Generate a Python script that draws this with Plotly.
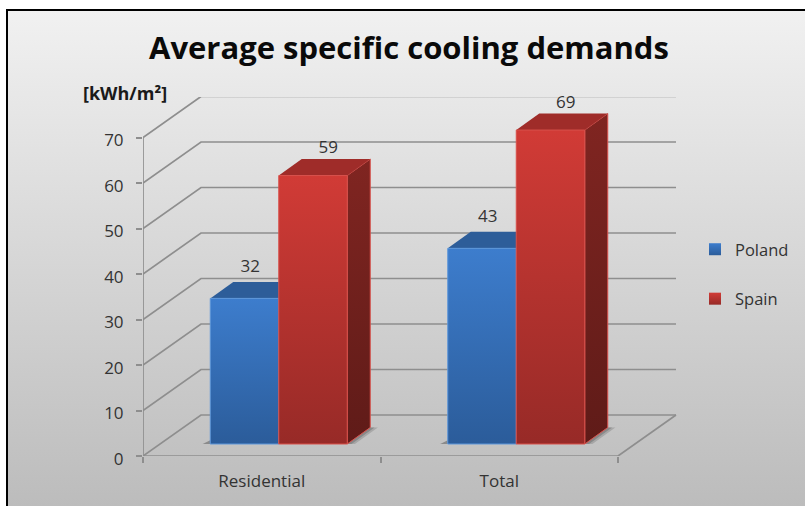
import plotly.graph_objects as go

# Chart content
TITLE = "Average specific cooling demands"
UNIT_LABEL = "[kWh/m²]"
categories = ["Residential", "Total"]
poland = [32, 43]
spain = [59, 69]
y_ticks = [0, 10, 20, 30, 40, 50, 60, 70]

# Canvas and plot geometry, in pixels
W, H = 805, 506
FRAME_L, FRAME_T = 7, 10
PLOT_L, PLOT_R = 143, 677
PLOT_B, PLOT_T = 456, 97
PX_PER_CAT = 237.5
PX_PER_UNIT = 4.55

# Oblique projection of the 3-D box, in axis units
WALL_DX = 58 / PX_PER_CAT
WALL_DY = 41 / PX_PER_UNIT
BAR_W = 68.5 / PX_PER_CAT
BAR_DX = 23 / PX_PER_CAT
BAR_DY = 16.5 / PX_PER_UNIT
FLOOR_DX = 17 / PX_PER_CAT
FLOOR_DY = 12 / PX_PER_UNIT

GRID = "#8e8e8e"
TEXT = "#333333"
FONT = "Open Sans"

STYLES = {
    "Poland": dict(front=("#3d7dcd", "#2b5c9a"), top="#2d5d99", side=("#24507f", "#1d4066"), edge="#5c96da"),
    "Spain": dict(front=("#d13b36", "#972a27"), top="#9f2c29", side=("#802521", "#5f1b18"), edge="#d8504b"),
}

fig = go.Figure()


def poly(xs, ys, grad=None, color=None, line=None):
    """Add a closed filled polygon on the chart axes."""
    kw = dict(
        x=list(xs) + [xs[0]], y=list(ys) + [ys[0]], mode="lines", fill="toself",
        xaxis="x2", yaxis="y2", showlegend=False, hoverinfo="skip",
        line=dict(color=line or "rgba(0,0,0,0)", width=1),
    )
    if grad:
        kw["fillgradient"] = dict(type="vertical", colorscale=[[0, grad[1]], [1, grad[0]]])
    else:
        kw["fillcolor"] = color
    fig.add_trace(go.Scatter(**kw))


# Slide background: a vertical gradient inside the frame
fig.add_trace(go.Scatter(
    x=[FRAME_L / W, 1, 1, FRAME_L / W, FRAME_L / W],
    y=[0, 0, 1 - FRAME_T / H, 1 - FRAME_T / H, 0], mode="lines", fill="toself",
    fillgradient=dict(type="vertical", colorscale=[[0, "#bcbcbc"], [1, "#f1f1f1"]]),
    line=dict(width=0), showlegend=False, hoverinfo="skip",
))

# Gridlines: along the side wall, then across the back wall
gx, gy = [], []
for v in y_ticks:
    gx += [0, WALL_DX, 2 + WALL_DX, None]
    gy += [v, v + WALL_DY, v + WALL_DY, None]
# Floor edges and the vertical axis
gx += [0, 2, 2 + WALL_DX, None, 0, 0, None]
gy += [0, 0, WALL_DY, None, 0, y_ticks[-1], None]
fig.add_trace(go.Scatter(
    x=gx, y=gy, mode="lines", line=dict(color=GRID, width=1.7), cliponaxis=False,
    xaxis="x2", yaxis="y2", showlegend=False, hoverinfo="skip",
))


def box(name, x0, value):
    """Draw one 3-D column whose front face starts at x0 on the floor."""
    s = STYLES[name]
    x1 = x0 + BAR_W
    base = FLOOR_DY
    top = FLOOR_DY + value
    poly([x1, x1 + BAR_DX, x1 + BAR_DX, x1], [base, base + BAR_DY, top + BAR_DY, top],
         grad=s["side"], line=s["edge"])
    poly([x0, x0 + BAR_DX, x1 + BAR_DX, x1], [top, top + BAR_DY, top + BAR_DY, top],
         color=s["top"])
    poly([x0, x1, x1, x0], [base, base, top, top], grad=s["front"], line=s["edge"])


def shadow(left, right):
    """Contact shadows on the floor either side of a column pair."""
    base = FLOOR_DY
    for spread, alpha in ((0.032, 0.22), (0.018, 0.32)):
        poly([right, right + BAR_DX, right + BAR_DX + spread, right + spread],
             [base, base + BAR_DY, base + BAR_DY, base], color=f"rgba(70,70,70,{alpha})")
    poly([left - 0.032, left, left], [base, base, base + 0.8], color="rgba(70,70,70,0.45)")


# Poland first so the Spain column sits in front of its right side
for i, (p, s) in enumerate(zip(poland, spain)):
    left = i + 0.5 - BAR_W + FLOOR_DX
    shadow(left, left + 2 * BAR_W)
    box("Poland", left, p)
    box("Spain", left + BAR_W, s)

# Value labels above each column
for values, dx_px, dy_px, offset in (
    (poland, 40, 14, 0.0),
    (spain, 49.5, 10, BAR_W),
):
    fig.add_trace(go.Scatter(
        x=[i + 0.5 - BAR_W + FLOOR_DX + offset + dx_px / PX_PER_CAT for i in range(len(values))],
        y=[v + FLOOR_DY + BAR_DY + dy_px / PX_PER_UNIT for v in values],
        text=[str(v) for v in values], mode="text", textposition="middle center",
        textfont=dict(family=FONT, size=17, color=TEXT), cliponaxis=False,
        xaxis="x2", yaxis="y2", showlegend=False, hoverinfo="skip",
    ))

# Legend entries
for name in ("Poland", "Spain"):
    fig.add_trace(go.Scatter(
        x=[None], y=[None], mode="markers", name=name, legendgroup=name,
        marker=dict(symbol="square", size=12, color=STYLES[name]["front"][0],
                    gradient=dict(type="vertical", color=STYLES[name]["front"][1]),
                    line=dict(width=0)),
        xaxis="x2", yaxis="y2",
    ))

fig.update_layout(
    width=W, height=H, margin=dict(l=0, r=0, t=0, b=0, autoexpand=False),
    paper_bgcolor="white", plot_bgcolor="rgba(0,0,0,0)", font=dict(family=FONT, color=TEXT),
    xaxis=dict(domain=[0, 1], range=[0, 1], visible=False, fixedrange=True),
    yaxis=dict(domain=[0, 1], range=[0, 1], visible=False, fixedrange=True),
    xaxis2=dict(
        domain=[PLOT_L / W, PLOT_R / W], range=[0, (PLOT_R - PLOT_L) / PX_PER_CAT],
        anchor="y2", showgrid=False, zeroline=False, showline=False,
        tickvals=[0.5, 1.5], ticktext=categories,
        ticks="outside", ticklen=10, tickcolor="rgba(0,0,0,0)",
        tickfont=dict(family=FONT, size=17, color=TEXT),
        minor=dict(tickvals=[0, 1, 2], ticks="outside", ticklen=6, tickcolor=GRID, tickwidth=1.7),
    ),
    yaxis2=dict(
        domain=[1 - PLOT_B / H, 1 - PLOT_T / H], range=[0, (PLOT_B - PLOT_T) / PX_PER_UNIT],
        anchor="x2", showgrid=False, zeroline=False, showline=False,
        tickvals=y_ticks, ticks="outside", ticklen=6, tickcolor=GRID, tickwidth=1.7,
        ticklabelstandoff=9, ticklabelshift=3,
        tickfont=dict(family=FONT, size=17, color=TEXT),
    ),
    legend=dict(
        x=695 / W, y=1 - 232 / H, xanchor="left", yanchor="top",
        bgcolor="rgba(0,0,0,0)", font=dict(family=FONT, size=16.5, color=TEXT),
        tracegroupgap=25, itemsizing="constant",
    ),
    annotations=[
        dict(text=f"<b>{TITLE}</b>", xref="paper", yref="paper", x=409 / W, y=1 - 47 / H,
             showarrow=False, xanchor="center", yanchor="middle",
             font=dict(family=FONT, size=31, color="#0a0a0a")),
        dict(text=f"<b>{UNIT_LABEL}</b>", xref="paper", yref="paper", x=125 / W, y=1 - 93 / H,
             showarrow=False, xanchor="center", yanchor="middle",
             font=dict(family=FONT, size=18, color="#1a1a1a")),
    ],
    shapes=[
        # Black frame edges along the left and top of the slide
        dict(type="line", xref="paper", yref="paper", x0=FRAME_L / W, x1=FRAME_L / W, y0=0, y1=1 - (FRAME_T - 1) / H,
             line=dict(color="black", width=2), layer="above"),
        dict(type="line", xref="paper", yref="paper", x0=FRAME_L / W, x1=1, y0=1 - FRAME_T / H, y1=1 - FRAME_T / H,
             line=dict(color="black", width=2), layer="above"),
    ],
)

fig.write_html("out.html", config=dict(displayModeBar=False))
